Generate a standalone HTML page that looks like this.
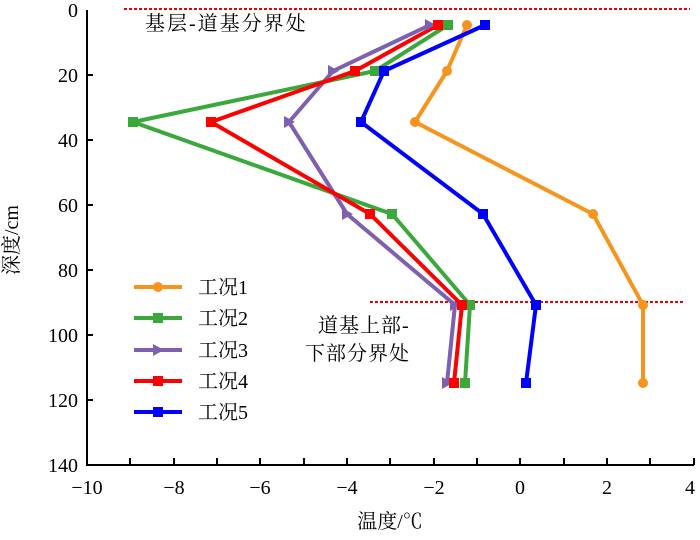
<!DOCTYPE html>
<html><head><meta charset="utf-8"><style>body{margin:0;background:#fff}</style></head><body>
<svg width="700" height="535" viewBox="0 0 700 535" xmlns="http://www.w3.org/2000/svg" font-family="'Liberation Serif','Noto Serif CJK SC',serif">
<g stroke="#000" stroke-width="2" fill="none">
<path d="M87,10V465H694"/>
<path d="M87,75h6M87,140h6M87,205h6M87,270h6M87,335h6M87,400h6"/>
<path d="M130,465v-7M174,465v-7M217,465v-7M260,465v-7M304,465v-7M347,465v-7M390,465v-7M434,465v-7M477,465v-7M520,465v-7M564,465v-7M607,465v-7M650,465v-7M694,465v-7"/>
</g>
<g font-size="20" text-anchor="end" fill="#000">
<text x="78" y="17">0</text><text x="78" y="82">20</text><text x="78" y="147">40</text><text x="78" y="212">60</text><text x="78" y="277">80</text><text x="78" y="342">100</text><text x="78" y="407">120</text><text x="78" y="472">140</text>
</g>
<g font-size="20" text-anchor="middle" fill="#000">
<text x="87" y="494">−10</text><text x="174" y="494">−8</text><text x="260" y="494">−6</text><text x="347" y="494">−4</text><text x="434" y="494">−2</text><text x="520" y="494">0</text><text x="607" y="494">2</text><text x="690" y="494">4</text>
<text x="390" y="528" font-size="20">温度/℃</text>
<text transform="translate(18,240) rotate(-90)" font-size="20">深度/cm</text>
</g>
<g stroke="#e00" stroke-width="2" stroke-dasharray="3,2">
<path d="M124,9H690M370,302H685"/>
</g>
<g font-size="20" fill="#000">
<text x="145" y="30" letter-spacing="2">基层-道基分界处</text>
<text x="318" y="332" letter-spacing="1">道基上部-</text>
<text x="305" y="360" letter-spacing="1">下部分界处</text>
</g>
<g fill="none" stroke-width="4" stroke-linejoin="round">
<polyline stroke="#f7941d" points="467,25 447,71 415,122 593,214 643,305 643,383"/>
<polyline stroke="#3aa83a" points="448,25 375,71 133,122 392,214 470,305 465,383"/>
<polyline stroke="#7e5fb0" points="430,25 333,71 289,122 347,214 455,305 447,383"/>
<polyline stroke="#f00" points="438,25 355,71 211,122 370,214 462,305 454,383"/>
<polyline stroke="#00f" points="485,25 384,71 361,122 483,214 536,305 526,383"/>
</g>
<g fill="#f7941d"><circle cx="467" cy="25" r="5"/><circle cx="447" cy="71" r="5"/><circle cx="415" cy="122" r="5"/><circle cx="593" cy="214" r="5"/><circle cx="643" cy="305" r="5"/><circle cx="643" cy="383" r="5"/></g>
<g fill="#3aa83a"><rect x="443" y="20" width="10" height="10"/><rect x="370" y="66" width="10" height="10"/><rect x="128" y="117" width="10" height="10"/><rect x="387" y="209" width="10" height="10"/><rect x="465" y="300" width="10" height="10"/><rect x="460" y="378" width="10" height="10"/></g>
<g fill="#7e5fb0"><path d="M425,19l11,6l-11,6z"/><path d="M328,65l11,6l-11,6z"/><path d="M284,116l11,6l-11,6z"/><path d="M342,208l11,6l-11,6z"/><path d="M450,299l11,6l-11,6z"/><path d="M442,377l11,6l-11,6z"/></g>
<g fill="#f00"><rect x="433" y="20" width="10" height="10"/><rect x="350" y="66" width="10" height="10"/><rect x="206" y="117" width="10" height="10"/><rect x="365" y="209" width="10" height="10"/><rect x="457" y="300" width="10" height="10"/><rect x="449" y="378" width="10" height="10"/></g>
<g fill="#00f"><rect x="480" y="20" width="10" height="10"/><rect x="379" y="66" width="10" height="10"/><rect x="356" y="117" width="10" height="10"/><rect x="478" y="209" width="10" height="10"/><rect x="531" y="300" width="10" height="10"/><rect x="521" y="378" width="10" height="10"/></g>
<g stroke-width="4">
<path stroke="#f7941d" d="M134,287h48"/><path stroke="#3aa83a" d="M134,318h48"/><path stroke="#7e5fb0" d="M134,350h48"/><path stroke="#f00" d="M134,381h48"/><path stroke="#00f" d="M134,412h48"/>
</g>
<circle cx="158" cy="287" r="5" fill="#f7941d"/>
<rect x="153" y="313" width="10" height="10" fill="#3aa83a"/>
<path d="M153,344l11,6l-11,6z" fill="#7e5fb0"/>
<rect x="153" y="376" width="10" height="10" fill="#f00"/>
<rect x="153" y="407" width="10" height="10" fill="#00f"/>
<g font-size="20" fill="#000">
<text x="198" y="294">工况1</text><text x="198" y="325">工况2</text><text x="198" y="357">工况3</text><text x="198" y="388">工况4</text><text x="198" y="419">工况5</text>
</g>
</svg>
</body></html>
